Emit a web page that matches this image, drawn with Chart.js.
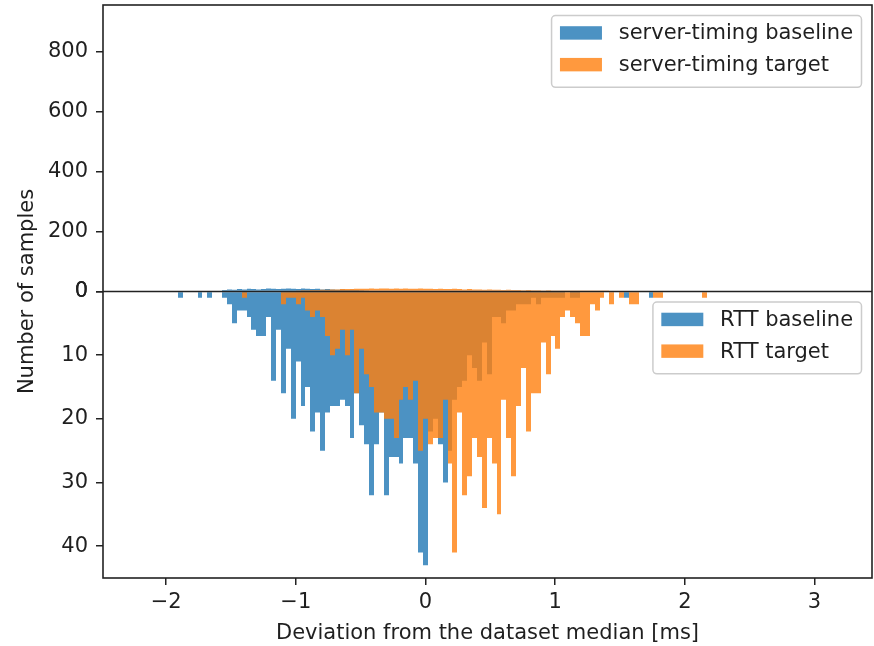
<!DOCTYPE html>
<html>
<head>
<meta charset="utf-8">
<title>RTT / server-timing deviation</title>
<script src="https://cdn.jsdelivr.net/npm/chart.js@4.4.1/dist/chart.umd.min.js"></script>
<style>
  html, body { margin: 0; padding: 0; background: #fff; overflow: hidden; }
</style>
</head>
<body>
<canvas id="devChart" width="874" height="646"></canvas>
<script>
// histogram bins (ms from the dataset median), shared by every series
var binStart = -1.89;      // centre of the first bin
var binWidth = 0.0378;

// RTT counts per bin (bottom panel, drawn downwards)
var rttBaseline = [
  1, 0, 0, 0, 1, 0, 1, 0, 0, 1,
  2, 5, 3, 3, 4, 6, 7, 7, 4, 14,
  6, 16, 9, 20, 11, 18, 15, 22, 19, 25,
  19, 18, 18, 17, 18, 23, 16, 21, 24, 32,
  24, 19, 32, 26, 26, 27, 23, 23, 27, 41,
  43, 22, 20, 24, 30, 25, 17, 15, 14, 10,
  12, 14, 8, 13, 4, 4, 5, 3, 3, 2,
  2, 2, 1, 2, 1, 1, 1, 1, 1, 0,
  1, 1, 0, 0, 0, 0, 0, 0, 0, 0,
  0, 1, 0, 0, 0, 0, 1, 0, 0, 0,
  0, 0, 0, 0, 0, 0, 0, 0
];
var rttTarget = [
  0, 0, 0, 0, 0, 0, 0, 0, 0, 0,
  0, 0, 0, 1, 0, 0, 0, 0, 0, 0,
  0, 2, 1, 1, 2, 1, 3, 4, 3, 4,
  7, 10, 9, 6, 10, 6, 16, 9, 13, 15,
  19, 19, 20, 20, 23, 17, 15, 17, 14, 25,
  20, 24, 23, 23, 17, 27, 41, 19, 32, 29,
  23, 26, 34, 23, 27, 35, 17, 23, 29, 18,
  12, 22, 16, 16, 8, 13, 7, 9, 4, 3,
  4, 5, 7, 7, 2, 3, 1, 0, 2, 0,
  1, 0, 2, 2, 0, 0, 0, 1, 1, 0,
  0, 0, 0, 0, 0, 0, 0, 1
];

// server-timing counts per bin (top panel, barely above zero)
var stBaseline = [
  0, 0, 0, 0, 0, 0, 0, 0, 0, 5,
  7, 6, 8, 7, 9, 8, 7, 8, 10, 9,
  8, 9, 10, 9, 8, 10, 9, 8, 9, 7,
  8, 7, 6, 7, 5, 6, 5, 4, 3, 0,
  0, 0, 0, 0, 0, 0, 0, 0, 0, 0,
  0, 0, 0, 0, 0, 0, 0, 0, 0, 0,
  0, 0, 0, 0, 0, 0, 0, 0, 0, 0,
  0, 0, 0, 0, 0, 0, 0, 0, 0, 0,
  0, 0, 0, 0, 0, 0, 0, 0, 0, 0,
  0, 0, 0, 0, 0, 0, 0, 0, 0, 0,
  0, 0, 0, 0, 0, 0, 0, 0
];
var stTarget = [
  0, 0, 0, 0, 0, 0, 0, 0, 0, 0,
  0, 0, 0, 0, 0, 0, 0, 0, 0, 0,
  0, 0, 0, 0, 3, 4, 4, 5, 5, 6,
  6, 7, 7, 8, 8, 8, 9, 9, 9, 10,
  9, 10, 10, 9, 10, 9, 10, 9, 9, 10,
  9, 9, 8, 9, 8, 8, 9, 8, 7, 8,
  7, 7, 6, 7, 6, 6, 5, 6, 5, 5,
  4, 5, 4, 4, 3, 4, 3, 3, 3, 2,
  3, 2, 2, 2, 2, 1, 2, 1, 0, 0,
  0, 0, 0, 0, 0, 0, 0, 0, 0, 0,
  0, 0, 0, 0, 0, 0, 0, 0
];

var xTicks = [-2, -1, 0, 1, 2, 3];
var topTicks = [0, 200, 400, 600, 800];
var bottomTicks = [0, 10, 20, 30, 40];
var xRange = [-2.487, 3.443];
var topMax = 957;
var bottomMax = 45;

var xTitle = 'Deviation from the dataset median [ms]';
var yTitle = 'Number of samples';

var fs = 21;
var fontFamily = "'DejaVu Sans', sans-serif";
var textColor = '#1f1f1f';
var axisColor = '#222222';
var blue = 'rgba(31, 119, 180, 0.8)';
var orange = 'rgba(255, 127, 14, 0.8)';

Chart.defaults.font.family = fontFamily;
Chart.defaults.font.size = fs;
Chart.defaults.color = textColor;

function binPoints(counts) {
  return counts.map(function (c, i) {
    return { x: binStart + i * binWidth, y: c };
  });
}

function fixedTicks(list) {
  return function (scale) {
    scale.ticks = list.map(function (v) { return { value: v }; });
  };
}

// fixed axis box size, no extra label padding around the plot
function fixedSize(w, h) {
  return function (s) {
    if (w) s.width = w;
    if (h) s.height = h;
    s.paddingTop = 0;
    s.paddingBottom = 0;
    s.paddingLeft = 0;
    s.paddingRight = 0;
  };
}

function minusLabel(v) {
  return v < 0 ? '\u2212' + Math.abs(v) : String(v);
}

function legendItems(chart, axisId) {
  return chart.data.datasets
    .filter(function (d) { return d.yAxisID === axisId; })
    .sort(function (a, b) { return b.order - a.order; })
    .map(function (d) { return { text: d.label, color: d.backgroundColor }; });
}

function drawLegend(c, items, right, top) {
  var pad = 0.4 * fs, handle = 2 * fs, gap = 0.8 * fs, step = 1.51 * fs;
  c.font = fs + 'px ' + fontFamily;
  var textW = 0;
  items.forEach(function (it) { textW = Math.max(textW, c.measureText(it.text).width); });
  var w = pad + handle + gap + textW + pad;
  var h = 3.42 * fs;
  var left = right - w;
  c.beginPath();
  c.roundRect(left, top, w, h, 4);
  c.fillStyle = 'rgba(255,255,255,0.8)';
  c.fill();
  c.lineWidth = 1.5;
  c.strokeStyle = '#cccccc';
  c.stroke();
  items.forEach(function (it, i) {
    var cy = top + 0.83 * fs + i * step;
    c.fillStyle = it.color;
    c.fillRect(left + pad, cy - 0.32 * fs, handle, 0.64 * fs);
    c.fillStyle = textColor;
    c.textAlign = 'left';
    c.textBaseline = 'middle';
    c.fillText(it.text, left + pad + handle + gap, cy + 1);
  });
}

// snap bar edges to whole pixels so neighbouring bins do not show seams
var snapPlugin = {
  id: 'snapBars',
  afterDatasetUpdate: function (chart, args) {
    args.meta.data.forEach(function (el) {
      var l = Math.round(el.x - el.width / 2);
      var r = Math.round(el.x + el.width / 2);
      el.x = (l + r) / 2;
      el.width = r - l;
    });
  }
};

var framePlugin = {
  id: 'frame',
  afterDraw: function (chart) {
    var c = chart.ctx, a = chart.chartArea;
    var mid = chart.scales.yBot.top;
    c.save();
    c.strokeStyle = axisColor;
    c.lineWidth = 1.6;
    c.strokeRect(a.left, a.top, a.right - a.left, a.bottom - a.top);
    c.beginPath();
    c.moveTo(a.left, mid);
    c.lineTo(a.right, mid);
    c.stroke();

    drawLegend(c, legendItems(chart, 'yTop'), a.right - 0.5 * fs, a.top + 0.5 * fs);
    drawLegend(c, legendItems(chart, 'yBot'), a.right - 0.5 * fs, mid + 0.5 * fs);

    // one y label shared by both panels
    c.translate(28, (a.top + a.bottom) / 2);
    c.rotate(-Math.PI / 2);
    c.font = fs + 'px ' + fontFamily;
    c.fillStyle = textColor;
    c.textAlign = 'center';
    c.textBaseline = 'middle';
    c.fillText(yTitle, 0, 0);
    c.restore();
  }
};

var tickGrid = { drawOnChartArea: false, drawTicks: true, tickLength: 7, color: axisColor, lineWidth: 1.5 };

new Chart(document.getElementById('devChart').getContext('2d'), {
  type: 'bar',
  data: {
    datasets: [
      { label: 'server-timing baseline', data: binPoints(stBaseline), yAxisID: 'yTop', backgroundColor: blue, order: 1 },
      { label: 'server-timing target', data: binPoints(stTarget), yAxisID: 'yTop', backgroundColor: orange, order: 0 },
      { label: 'RTT baseline', data: binPoints(rttBaseline), yAxisID: 'yBot', backgroundColor: blue, order: 1 },
      { label: 'RTT target', data: binPoints(rttTarget), yAxisID: 'yBot', backgroundColor: orange, order: 0 }
    ]
  },
  options: {
    responsive: false,
    animation: false,
    devicePixelRatio: 1,
    layout: { padding: { left: 0, right: 2, top: 5, bottom: 0 } },
    datasets: {
      bar: { grouped: false, barPercentage: 1, categoryPercentage: 1, inflateAmount: 0, borderWidth: 0 }
    },
    plugins: { legend: { display: false }, tooltip: { enabled: false } },
    scales: {
      x: {
        type: 'linear',
        position: 'bottom',
        min: xRange[0],
        max: xRange[1],
        offset: false,
        afterBuildTicks: fixedTicks(xTicks),
        afterFit: fixedSize(0, 68),
        ticks: { padding: 5, callback: minusLabel, maxRotation: 0 },
        grid: Object.assign({ offset: false }, tickGrid),
        border: { display: false },
        title: { display: true, text: xTitle, padding: { top: 0, bottom: 0 } }
      },
      yTop: {
        type: 'linear',
        position: 'left',
        stack: 'panels',
        stackWeight: 1,
        weight: 1,
        min: 0,
        max: topMax,
        afterBuildTicks: fixedTicks(topTicks),
        afterFit: fixedSize(103, 0),
        ticks: { padding: 8 },
        grid: tickGrid,
        border: { display: false }
      },
      yBot: {
        type: 'linear',
        position: 'left',
        stack: 'panels',
        stackWeight: 1,
        weight: 0,
        reverse: true,
        min: 0,
        max: bottomMax,
        afterBuildTicks: fixedTicks(bottomTicks),
        afterFit: fixedSize(103, 0),
        ticks: { padding: 8 },
        grid: tickGrid,
        border: { display: false }
      }
    }
  },
  plugins: [snapPlugin, framePlugin]
});
</script>
</body>
</html>
